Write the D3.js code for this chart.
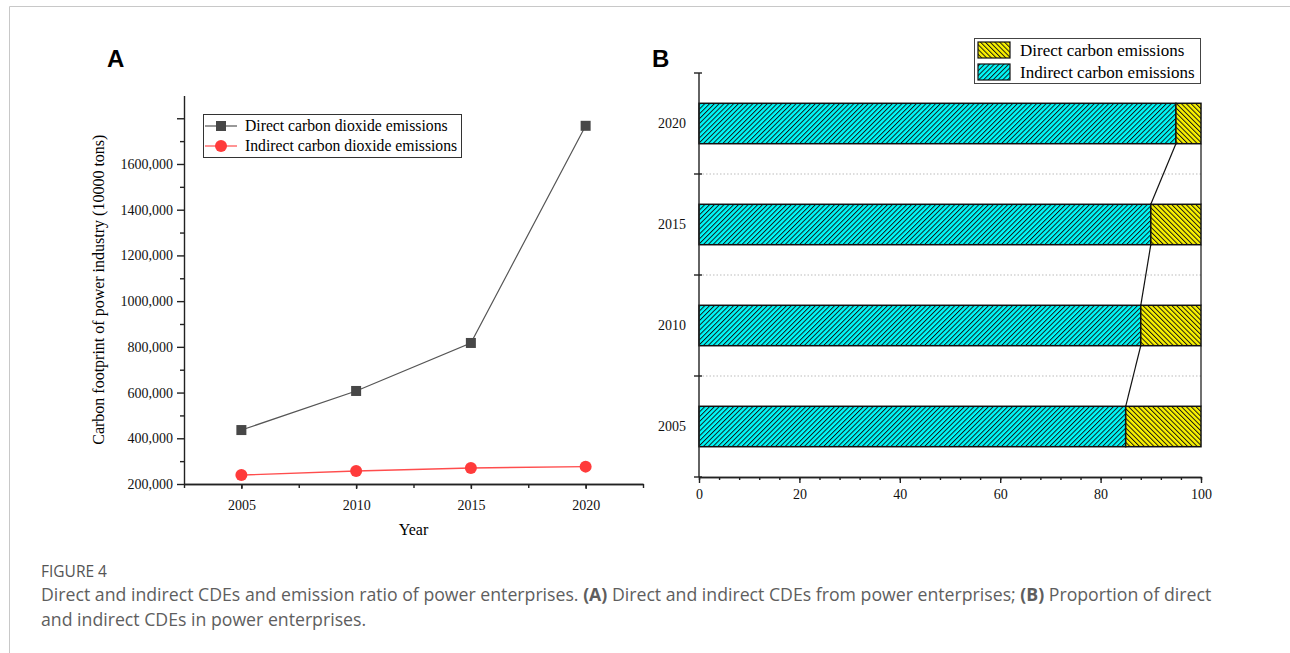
<!DOCTYPE html>
<html>
<head>
<meta charset="utf-8">
<script src="https://cdn.jsdelivr.net/npm/d3@7"></script>
<style>
  html, body { margin: 0; padding: 0; background: #fff; }
  svg { display: block; }
</style>
</head>
<body>
<svg id="fig" width="1290" height="653"></svg>
<script>
// ---- Panel A data: CDEs of power enterprises (10000 tons)
const yearsA = [2005, 2010, 2015, 2020];
const directCDE = [436000, 607000, 817000, 1767000];
const indirectCDE = [239000, 257000, 270000, 276000];
const yTicksA = [200000, 400000, 600000, 800000, 1000000, 1200000, 1400000, 1600000];

// ---- Panel B data: share of each emission type (%)
const yearsB = ["2005", "2010", "2015", "2020"];
const indirectShare = [85, 88, 90, 95];
const directShare = [15, 12, 10, 5];
const xTicksB = [0, 20, 40, 60, 80, 100];

const serif = "'Liberation Serif', 'Times New Roman', serif";
const svg = d3.select("#fig");

// page frame
svg.append("path").attr("d", "M9.5,653 V6.5 H1290")
  .attr("fill", "none").attr("stroke", "#c8c8c8").attr("stroke-width", 1);

// panel letters
svg.append("text").attr("x", 107).attr("y", 67).text("A")
  .attr("font-family", "'Liberation Sans', Arial, sans-serif").attr("font-weight", "bold").attr("font-size", 24);
svg.append("text").attr("x", 652).attr("y", 67).text("B")
  .attr("font-family", "'Liberation Sans', Arial, sans-serif").attr("font-weight", "bold").attr("font-size", 24);

// ================= Panel A =================
const xA = d3.scaleLinear().domain([2002.5, 2022.5]).range([184, 643]);
const yA = d3.scaleLinear().domain([200000, 1900000]).range([484, 95.4]);
const fmtA = v => Math.round(v / 1000) + ",000";

const gA = svg.append("g");

// y axis: minor ticks, then labelled major ticks
const minorY = d3.range(300000, 1900000, 200000);
gA.append("g").attr("transform", `translate(${xA.range()[0]},0)`)
  .call(d3.axisLeft(yA).tickValues(minorY).tickSize(4).tickFormat(""))
  .call(g => g.select(".domain").remove());
gA.append("g").attr("transform", `translate(${xA.range()[0]},0)`)
  .call(d3.axisLeft(yA).tickValues(yTicksA.concat([1800000])).tickSize(7)
    .tickFormat(v => v === 1800000 ? "" : fmtA(v)).tickSizeOuter(0))
  .call(g => g.selectAll("text").attr("font-family", serif).attr("font-size", 14).attr("fill", "#111").attr("dx", "-1"));

// x axis
gA.append("g").attr("transform", `translate(0,${yA.range()[0]})`)
  .call(d3.axisBottom(xA).tickValues(d3.range(2002.5, 2023, 2.5)).tickSize(4).tickFormat("").tickSizeOuter(0));
gA.append("g").attr("transform", `translate(0,${yA.range()[0]})`)
  .call(d3.axisBottom(xA).tickValues(yearsA).tickSize(5).tickFormat(d3.format("d")).tickSizeOuter(0))
  .call(g => g.selectAll("text").attr("font-family", serif).attr("font-size", 14).attr("fill", "#111").attr("dy", "1.25em"));

gA.selectAll(".domain, .tick line").attr("stroke", "#222").attr("stroke-width", 1.4);

// axis titles
gA.append("text").attr("x", xA((2002.5 + 2022.5) / 2)).attr("y", 535).attr("text-anchor", "middle")
  .attr("font-family", serif).attr("font-size", 16).text("Year");
gA.append("text").attr("transform", `translate(104,${(484 + 95.4) / 2}) rotate(-90)`).attr("text-anchor", "middle")
  .attr("font-family", serif).attr("font-size", 16).text("Carbon footprint of power industry (10000 tons)");

// series lines
const line = vals => d3.line().x((d, i) => xA(yearsA[i])).y(d => yA(d))(vals);
gA.append("path").attr("d", line(directCDE)).attr("fill", "none").attr("stroke", "#555").attr("stroke-width", 1.2);
gA.append("path").attr("d", line(indirectCDE)).attr("fill", "none").attr("stroke", "#ff4d4d").attr("stroke-width", 1.4);

// markers
gA.selectAll(".sq").data(directCDE).join("rect").attr("class", "sq")
  .attr("x", (d, i) => xA(yearsA[i]) - 5).attr("y", d => yA(d) - 5)
  .attr("width", 10).attr("height", 10).attr("fill", "#474747");
gA.selectAll(".dot").data(indirectCDE).join("circle").attr("class", "dot")
  .attr("cx", (d, i) => xA(yearsA[i])).attr("cy", d => yA(d)).attr("r", 6).attr("fill", "#ff3b3b");

// legend A
const legA = gA.append("g");
legA.append("rect").attr("x", 203.5).attr("y", 114.5).attr("width", 258).attr("height", 43)
  .attr("fill", "#fff").attr("stroke", "#333").attr("stroke-width", 1);
const legItemsA = [
  { label: "Direct carbon dioxide emissions", color: "#555", marker: "square", y: 126 },
  { label: "Indirect carbon dioxide emissions", color: "#ff4d4d", marker: "circle", y: 146 }
];
legItemsA.forEach(it => {
  legA.append("line").attr("x1", 205).attr("x2", 237).attr("y1", it.y).attr("y2", it.y)
    .attr("stroke", it.color).attr("stroke-width", 1.2);
  if (it.marker === "square") {
    legA.append("rect").attr("x", 216).attr("y", it.y - 5).attr("width", 10).attr("height", 10).attr("fill", "#474747");
  } else {
    legA.append("circle").attr("cx", 221).attr("cy", it.y).attr("r", 6).attr("fill", "#ff3b3b");
  }
  legA.append("text").attr("x", 245).attr("y", it.y).attr("dy", "0.35em")
    .attr("font-family", serif).attr("font-size", 15.7).text(it.label);
});

// ================= Panel B =================
const defs = svg.append("defs");
function hatch(id, bg, angle) {
  const s = 3.4;
  const p = defs.append("pattern").attr("id", id).attr("patternUnits", "userSpaceOnUse")
    .attr("width", s).attr("height", s).attr("patternTransform", `rotate(${angle})`);
  p.append("rect").attr("width", s).attr("height", s).attr("fill", bg);
  p.append("line").attr("x1", 0.5).attr("x2", 0.5).attr("y1", 0).attr("y2", s)
    .attr("stroke", "#111").attr("stroke-width", 0.95);
}
hatch("hatchIndirect", "#00fafa", 45);
hatch("hatchDirect", "#fbf300", -45);

const xB = d3.scaleLinear().domain([0, 100]).range([699, 1201]);
const yB = d3.scaleBand().domain(yearsB.slice().reverse()).range([73, 477]).paddingInner(0.6).paddingOuter(0.3);
const step = yB.step();
const boundaries = d3.range(0, yearsB.length + 1).map(i => 73 + i * step);

const gB = svg.append("g");

// dotted separators between categories
gB.selectAll(".grid").data(boundaries.slice(1, -1)).join("line").attr("class", "grid")
  .attr("x1", xB(0)).attr("x2", xB(100)).attr("y1", d => d).attr("y2", d => d)
  .attr("stroke", "#bbb").attr("stroke-width", 1).attr("stroke-dasharray", "1.5,2");

// bars
yearsB.forEach((yr, i) => {
  const y0 = yB(yr), h = yB.bandwidth();
  gB.append("rect").attr("x", xB(0)).attr("y", y0).attr("width", xB(indirectShare[i]) - xB(0)).attr("height", h)
    .attr("fill", "url(#hatchIndirect)").attr("stroke", "#111").attr("stroke-width", 1.5);
  gB.append("rect").attr("x", xB(indirectShare[i])).attr("y", y0)
    .attr("width", xB(indirectShare[i] + directShare[i]) - xB(indirectShare[i])).attr("height", h)
    .attr("fill", "url(#hatchDirect)").attr("stroke", "#111").attr("stroke-width", 1.5);
});

// connecting lines between stacked segments of neighbouring bars
for (let i = 0; i < yearsB.length - 1; i++) {
  const yTop = yB(yearsB[i]);
  const yBottomNext = yB(yearsB[i + 1]) + yB.bandwidth();
  [[indirectShare[i], indirectShare[i + 1]],
   [indirectShare[i] + directShare[i], indirectShare[i + 1] + directShare[i + 1]]].forEach(([a, b]) => {
    gB.append("line").attr("x1", xB(a)).attr("y1", yTop).attr("x2", xB(b)).attr("y2", yBottomNext)
      .attr("stroke", "#111").attr("stroke-width", 1.2);
  });
}

// y axis with ticks at category boundaries
gB.append("line").attr("x1", xB(0)).attr("x2", xB(0)).attr("y1", 73).attr("y2", 477)
  .attr("stroke", "#222").attr("stroke-width", 1.4);
gB.selectAll(".ytk").data(boundaries).join("line").attr("class", "ytk")
  .attr("x1", xB(0) - 5).attr("x2", xB(0) + 3).attr("y1", d => d).attr("y2", d => d)
  .attr("stroke", "#222").attr("stroke-width", 1.4);
gB.selectAll(".ylab").data(yearsB).join("text").attr("class", "ylab")
  .attr("x", xB(0) - 13).attr("y", d => yB(d) + yB.bandwidth() / 2).attr("dy", "0.35em")
  .attr("text-anchor", "end").attr("font-family", serif).attr("font-size", 14).attr("fill", "#111").text(d => d);

// x axis
gB.append("g").attr("transform", "translate(0,477)")
  .call(d3.axisBottom(xB).tickValues(d3.range(0, 101, 4)).tickSize(3).tickFormat("").tickSizeOuter(0));
gB.append("g").attr("transform", "translate(0,477)")
  .call(d3.axisBottom(xB).tickValues(xTicksB).tickSize(6).tickFormat(d3.format("d")).tickSizeOuter(0))
  .call(g => g.selectAll("text").attr("font-family", serif).attr("font-size", 14).attr("fill", "#111").attr("dy", "0.9em"));
gB.selectAll(".domain, .tick line").attr("stroke", "#222").attr("stroke-width", 1.4);

// legend B
const legB = gB.append("g");
legB.append("rect").attr("x", 974.5).attr("y", 38.5).attr("width", 226).attr("height", 45)
  .attr("fill", "#fff").attr("stroke", "#444").attr("stroke-width", 1);
[{ label: "Direct carbon emissions", fill: "url(#hatchDirect)", y: 50 },
 { label: "Indirect carbon emissions", fill: "url(#hatchIndirect)", y: 72 }].forEach(it => {
  legB.append("rect").attr("x", 978).attr("y", it.y - 8).attr("width", 32).attr("height", 16)
    .attr("fill", it.fill).attr("stroke", "#111").attr("stroke-width", 1.2);
  legB.append("text").attr("x", 1020).attr("y", it.y).attr("dy", "0.35em")
    .attr("font-family", serif).attr("font-size", 17).text(it.label);
});

// ================= Caption =================
const sans = "'Open Sans', 'Noto Sans', sans-serif";
svg.append("text").attr("x", 41).attr("y", 577).attr("font-family", sans).attr("font-size", 15.5)
  .attr("fill", "#555").text("FIGURE 4");
const cap1 = svg.append("text").attr("x", 41).attr("y", 601).attr("font-family", sans).attr("font-size", 17.7).attr("fill", "#5e5e5e");
cap1.append("tspan").text("Direct and indirect CDEs and emission ratio of power enterprises. ");
cap1.append("tspan").attr("font-weight", "bold").text("(A)");
cap1.append("tspan").text(" Direct and indirect CDEs from power enterprises; ");
cap1.append("tspan").attr("font-weight", "bold").text("(B)");
cap1.append("tspan").text(" Proportion of direct");
svg.append("text").attr("x", 41).attr("y", 626).attr("font-family", sans).attr("font-size", 17.7).attr("fill", "#5e5e5e")
  .text("and indirect CDEs in power enterprises.");
</script>
</body>
</html>
